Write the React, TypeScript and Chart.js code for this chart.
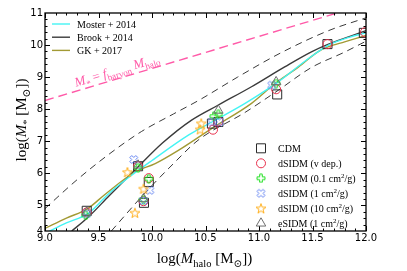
import React, { useEffect, useRef } from 'react';
import { Chart, registerables } from 'chart.js';
Chart.register(...registerables);

// ---------- axis ticks ----------
const xTickValues = [9.0, 9.5, 10.0, 10.5, 11.0, 11.5, 12.0];
const yTickValues = [4.2, 5, 6, 7, 8, 9, 10, 11];
const yTickLabels = ['4', '5', '6', '7', '8', '9', '10', '11'];

// ---------- relations ----------
const mosterX = [9.0, 9.2, 9.4, 9.6, 9.81, 10.0, 10.34, 10.56, 10.87, 11.18, 11.45, 11.65, 11.85, 12.0];
const mosterY = [4.12, 4.45, 4.74, 5.38, 5.94, 6.4, 7.19, 7.6, 8.18, 8.85, 9.55, 10.0, 10.25, 10.38];

const brookX = [9.25, 9.4, 9.6, 9.84, 10.1, 10.37, 10.62, 10.93, 11.24, 11.49, 11.65, 11.85, 12.0];
const brookY = [4.2, 4.62, 5.3, 6.1, 6.95, 7.66, 8.13, 8.7, 9.32, 9.79, 10.03, 10.27, 10.45];

const gkX = [9.0, 9.2, 9.4, 9.56, 9.84, 10.03, 10.25, 10.56, 10.93, 11.15, 11.37, 11.55, 11.65, 11.8, 12.0];
const gkY = [4.28, 4.6, 4.9, 5.34, 6.04, 6.3, 6.72, 7.4, 8.18, 8.8, 9.32, 9.79, 9.95, 10.1, 10.3];

const upperX = [9.0, 9.3, 9.6, 9.9, 10.2, 10.45, 10.8, 11.2, 11.65, 12.0];
const upperY = [4.9, 5.8, 6.6, 7.3, 7.85, 8.3, 9.0, 9.75, 10.45, 10.85];

const lowerX = [9.62, 9.93, 10.2, 10.43, 10.87, 11.18, 11.49, 11.8, 12.0];
const lowerY = [4.2, 5.37, 6.3, 7.03, 7.9, 8.59, 9.3, 9.78, 10.12];

const fbaryonX = [9.0, 12.0];
const fbaryonY = [8.27, 11.27];

// ---------- simulations ----------
const cdmX = [9.39, 9.87, 9.97, 9.925, 10.56, 10.62, 11.17, 11.64, 11.98];
const cdmY = [4.83, 6.22, 5.73, 5.08, 7.55, 7.6, 8.46, 10.03, 10.38];

const vdepX = [9.39, 9.87, 9.97, 9.92, 10.57, 10.62, 11.16, 11.64, 11.99];
const vdepY = [4.78, 6.22, 5.85, 5.13, 7.36, 7.62, 8.62, 10.03, 10.4];

const s01X = [9.38, 9.87, 9.97, 9.92, 10.58, 10.62, 11.16];
const s01Y = [4.69, 6.17, 5.83, 5.18, 7.78, 7.84, 8.8];

const s1X = [9.39, 9.83, 9.98, 9.92, 10.56, 10.63, 11.12];
const s1Y = [4.74, 6.43, 5.47, 5.15, 7.6, 7.6, 8.75];

const s10X = [9.77, 9.92, 9.84, 10.46, 10.45];
const s10Y = [6.04, 5.52, 4.77, 7.56, 7.37];

const esX = [9.39, 9.87, 9.92, 10.62, 11.16];
const esY = [4.78, 6.25, 5.2, 7.96, 8.85];

// ---------- styling ----------
const SERIF = '"Liberation Serif", "DejaVu Serif", serif';
const SANS = '"DejaVu Sans", sans-serif';
const C_CYAN = '#44f4f4';
const C_BROOK = '#3a3a3a';
const C_GK = '#a29a34';
const C_PINK = '#ff5aa8';
const C_DASH = '#3a3a3a';
const C_CDM = '#2a2a2a';
const C_VDEP = '#e8304c';
const C_S01 = '#22e022';
const C_S1 = '#5a7cf0';
const C_S10 = '#ffae1a';
const C_ES = '#6e6e6e';

const zip = (xs: number[], ys: number[]) => xs.map((x, i) => ({ x, y: ys[i] }));

function markerCanvas(kind: 'plus' | 'x' | 'star', color: string, size: number) {
  const c = document.createElement('canvas');
  c.width = size;
  c.height = size;
  const ctx = c.getContext('2d') as CanvasRenderingContext2D;
  const cx = size / 2, cy = size / 2;
  ctx.beginPath();
  if (kind === 'plus' || kind === 'x') {
    let r = size / 2 - 1;
    if (kind === 'x') r = r / Math.sqrt(1 + 1 / 9);
    const a = r / 3;
    const pts = [[-a, -r], [a, -r], [a, -a], [r, -a], [r, a], [a, a], [a, r], [-a, r], [-a, a], [-r, a], [-r, -a], [-a, -a]];
    const ang = kind === 'x' ? Math.PI / 4 : 0;
    const co = Math.cos(ang), si = Math.sin(ang);
    pts.forEach(([px, py], i) => {
      const X = cx + px * co - py * si;
      const Y = cy + px * si + py * co;
      if (i === 0) ctx.moveTo(X, Y); else ctx.lineTo(X, Y);
    });
  } else {
    const R = size / 2 - 0.8, r = R * 0.4;
    for (let i = 0; i < 10; i++) {
      const rr = i % 2 === 0 ? R : r;
      const t = -Math.PI / 2 + (i * Math.PI) / 5;
      const X = cx + rr * Math.cos(t);
      const Y = cy + 0.6 + rr * Math.sin(t);
      if (i === 0) ctx.moveTo(X, Y); else ctx.lineTo(X, Y);
    }
  }
  ctx.closePath();
  ctx.strokeStyle = color;
  ctx.lineWidth = 1;
  ctx.stroke();
  return c;
}

type Part = { t: string; i?: boolean; sub?: boolean; sup?: boolean };

function drawRich(ctx: CanvasRenderingContext2D, parts: Part[], x: number, y: number, size: number, align: 'left' | 'center') {
  const fontFor = (p: Part) => {
    const s = p.sub || p.sup ? size * 0.7 : size;
    return `${p.i ? 'italic ' : ''}${s}px ${SERIF}`;
  };
  const widths = parts.map(p => { ctx.font = fontFor(p); return ctx.measureText(p.t).width; });
  const total = widths.reduce((a, b) => a + b, 0);
  let cx = align === 'center' ? x - total / 2 : x;
  ctx.textAlign = 'left';
  ctx.textBaseline = 'alphabetic';
  parts.forEach((p, k) => {
    ctx.font = fontFor(p);
    const dy = p.sub ? size * 0.28 : p.sup ? -size * 0.38 : 0;
    ctx.fillText(p.t, cx, y + dy);
    cx += widths[k];
  });
}

type MarkerSpec = { kind: string; color: string; img?: HTMLCanvasElement };

function drawMarker(ctx: CanvasRenderingContext2D, m: MarkerSpec, x: number, y: number) {
  ctx.save();
  ctx.strokeStyle = m.color;
  ctx.lineWidth = 1;
  ctx.beginPath();
  if (m.kind === 'rect') {
    ctx.rect(x - 4.5, y - 4.5, 9, 9);
    ctx.stroke();
  } else if (m.kind === 'circle') {
    ctx.arc(x, y, 4.5, 0, Math.PI * 2);
    ctx.stroke();
  } else if (m.kind === 'triangle') {
    const r = 5.5;
    for (let i = 0; i < 3; i++) {
      const t = -Math.PI / 2 + (i * 2 * Math.PI) / 3;
      const X = x + r * Math.cos(t), Y = y + r * Math.sin(t);
      if (i === 0) ctx.moveTo(X, Y); else ctx.lineTo(X, Y);
    }
    ctx.closePath();
    ctx.stroke();
  } else if (m.img) {
    ctx.drawImage(m.img, x - m.img.width / 2, y - m.img.height / 2);
  }
  ctx.restore();
}

export default function App() {
  const ref = useRef<HTMLCanvasElement>(null);

  useEffect(() => {
    const canvas = ref.current as HTMLCanvasElement;
    const plusImg = markerCanvas('plus', C_S01, 10);
    const xImg = markerCanvas('x', C_S1, 11);
    const starImg = markerCanvas('star', C_S10, 12);

    const legendMarkers: { m: MarkerSpec; label: Part[] }[] = [
      { m: { kind: 'rect', color: C_CDM }, label: [{ t: 'CDM' }] },
      { m: { kind: 'circle', color: C_VDEP }, label: [{ t: 'dSIDM (v dep.)' }] },
      { m: { kind: 'img', color: C_S01, img: plusImg }, label: [{ t: 'dSIDM (0.1 cm' }, { t: '2', sup: true }, { t: '/g)' }] },
      { m: { kind: 'img', color: C_S1, img: xImg }, label: [{ t: 'dSIDM (1 cm' }, { t: '2', sup: true }, { t: '/g)' }] },
      { m: { kind: 'img', color: C_S10, img: starImg }, label: [{ t: 'dSIDM (10 cm' }, { t: '2', sup: true }, { t: '/g)' }] },
      { m: { kind: 'triangle', color: C_ES }, label: [{ t: 'eSIDM (1 cm' }, { t: '2', sup: true }, { t: '/g)' }] },
    ];
    const legendLines = [
      { color: C_CYAN, label: 'Moster + 2014' },
      { color: C_BROOK, label: 'Brook + 2014' },
      { color: C_GK, label: 'GK + 2017' },
    ];

    const decor = {
      id: 'decor',
      afterDatasetsDraw(chart: any) {
        const { ctx, scales } = chart;
        const xs = scales.x, ys = scales.y;
        const p0x = xs.getPixelForValue(fbaryonX[0]), p0y = ys.getPixelForValue(fbaryonY[0]);
        const p1x = xs.getPixelForValue(fbaryonX[1]), p1y = ys.getPixelForValue(fbaryonY[1]);
        const ang = Math.atan2(p1y - p0y, p1x - p0x);
        ctx.save();
        ctx.translate(xs.getPixelForValue(9.29), ys.getPixelForValue(8.7));
        ctx.rotate(ang);
        ctx.fillStyle = C_PINK;
        drawRich(ctx, [
          { t: 'M', i: true }, { t: '*', sub: true }, { t: ' = ' }, { t: 'f', i: true },
          { t: 'baryon', sub: true }, { t: ' M', i: true }, { t: 'halo', sub: true },
        ], 0, 0, 13, 'left');
        ctx.restore();
      },
      afterDraw(chart: any) {
        const { ctx, chartArea: a, scales } = chart;
        const xs = scales.x, ys = scales.y;
        ctx.save();
        ctx.strokeStyle = '#000';
        ctx.lineWidth = 1;
        const seg = (x1: number, y1: number, x2: number, y2: number) => {
          ctx.beginPath(); ctx.moveTo(x1, y1); ctx.lineTo(x2, y2); ctx.stroke();
        };
        for (let i = 0; i <= 30; i++) {
          const v = 9 + i * 0.1;
          const px = Math.round(xs.getPixelForValue(v)) + 0.5;
          const L = i % 5 === 0 ? 5 : 2.5;
          seg(px, a.bottom, px, a.bottom - L);
          seg(px, a.top, px, a.top + L);
        }
        for (let i = 1; i < 34; i++) {
          const v = 4.2 + i * 0.2;
          const py = Math.round(ys.getPixelForValue(v)) + 0.5;
          const major = Math.abs(v - Math.round(v)) < 1e-6;
          const L = major ? 5 : 2.5;
          seg(a.left, py, a.left + L, py);
          seg(a.right, py, a.right - L, py);
        }
        ctx.lineWidth = 1.3;
        ctx.strokeRect(a.left, a.top, a.right - a.left, a.bottom - a.top);

        // axis titles
        ctx.fillStyle = '#000';
        drawRich(ctx, [
          { t: 'log(' }, { t: 'M', i: true }, { t: 'halo', sub: true }, { t: ' [M' }, { t: '\u2299', sub: true }, { t: '])' },
        ], (a.left + a.right) / 2 - 1, 263, 15, 'center');
        ctx.save();
        ctx.translate(26, (a.top + a.bottom) / 2 - 2);
        ctx.rotate(-Math.PI / 2);
        drawRich(ctx, [
          { t: 'log(' }, { t: 'M', i: true }, { t: '*', sub: true }, { t: ' [M' }, { t: '\u2299', sub: true }, { t: '])' },
        ], 0, 0, 15, 'center');
        ctx.restore();

        // legend of relations
        legendLines.forEach((l, k) => {
          const yy = 24 + k * 13.2;
          ctx.strokeStyle = l.color;
          ctx.lineWidth = 1.4;
          seg(52, yy, 70, yy);
          ctx.fillStyle = '#000';
          drawRich(ctx, [{ t: l.label }], 77, yy + 3.5, 10, 'left');
        });

        // legend of simulations
        legendMarkers.forEach((e, k) => {
          const yy = 148.3 + k * 15;
          drawMarker(ctx, e.m, 261, yy);
          ctx.fillStyle = '#000';
          drawRich(ctx, e.label, 278, yy + 3.5, 10, 'left');
        });
        ctx.restore();
      },
    };

    const lineDs = (label: string, xs: number[], ys: number[], color: string, width: number, dash: number[], order: number) => ({
      type: 'scatter' as const,
      label,
      data: zip(xs, ys),
      showLine: true,
      borderColor: color,
      backgroundColor: color,
      borderWidth: width,
      borderDash: dash,
      pointRadius: 0,
      cubicInterpolationMode: 'monotone' as const,
      order,
    });

    const ptDs = (label: string, xs: number[], ys: number[], color: string, style: any, radius: number, order: number) => ({
      type: 'scatter' as const,
      label,
      data: zip(xs, ys),
      showLine: false,
      pointStyle: style,
      pointRadius: radius,
      pointBorderColor: color,
      pointBackgroundColor: 'rgba(0,0,0,0)',
      pointBorderWidth: 1,
      borderColor: color,
      order,
    });

    const chart = new Chart(canvas, {
      type: 'scatter',
      data: {
        datasets: [
          lineDs('M* = f_baryon M_halo', fbaryonX, fbaryonY, C_PINK, 1.4, [9, 5], 30),
          lineDs('upper scatter', upperX, upperY, C_DASH, 1, [7, 5], 29),
          lineDs('lower scatter', lowerX, lowerY, C_DASH, 1, [7, 5], 28),
          lineDs('GK + 2017', gkX, gkY, C_GK, 1.4, [], 25),
          lineDs('Brook + 2014', brookX, brookY, C_BROOK, 1.4, [], 26),
          lineDs('Moster + 2014', mosterX, mosterY, C_CYAN, 1.4, [], 24),
          ptDs('CDM', cdmX, cdmY, C_CDM, 'rect', 6.4, 6),
          ptDs('dSIDM (v dep.)', vdepX, vdepY, C_VDEP, 'circle', 4.5, 5),
          ptDs('dSIDM (0.1 cm2/g)', s01X, s01Y, C_S01, plusImg, 5, 4),
          ptDs('dSIDM (1 cm2/g)', s1X, s1Y, C_S1, xImg, 5, 3),
          ptDs('dSIDM (10 cm2/g)', s10X, s10Y, C_S10, starImg, 6, 2),
          ptDs('eSIDM (1 cm2/g)', esX, esY, C_ES, 'triangle', 5.5, 1),
        ] as any,
      },
      options: {
        responsive: false,
        animation: false,
        events: [],
        layout: { padding: { top: 13, right: 41, left: 0, bottom: 0 } },
        plugins: { legend: { display: false }, tooltip: { enabled: false } },
        scales: {
          x: {
            type: 'linear',
            min: 9.0,
            max: 12.0,
            grid: { display: false, drawTicks: false },
            border: { display: false },
            afterBuildTicks: (s: any) => { s.ticks = xTickValues.map(v => ({ value: v })); },
            afterFit: (s: any) => { s.height = 40; },
            ticks: {
              autoSkip: false,
              maxRotation: 0,
              padding: 1,
              color: '#000',
              font: { family: SANS, size: 10 },
              callback: (v: any) => Number(v).toFixed(1),
            },
          },
          y: {
            type: 'linear',
            min: 4.2,
            max: 11.0,
            grid: { display: false, drawTicks: false },
            border: { display: false },
            afterBuildTicks: (s: any) => { s.ticks = yTickValues.map(v => ({ value: v })); },
            afterFit: (s: any) => { s.width = 45; },
            ticks: {
              autoSkip: false,
              padding: 2,
              color: '#000',
              font: { family: SANS, size: 10 },
              callback: (v: any) => {
                const k = yTickValues.findIndex(t => Math.abs(t - Number(v)) < 1e-6);
                return k >= 0 ? yTickLabels[k] : '';
              },
            },
          },
        },
      },
      plugins: [decor as any],
    });
    return () => chart.destroy();
  }, []);

  return (
    <div style={{ position: 'fixed', left: 0, top: 0, width: 407, height: 271, background: '#fff' }}>
      <canvas ref={ref} width={407} height={271} style={{ display: 'block', width: 407, height: 271 }} />
    </div>
  );
}
